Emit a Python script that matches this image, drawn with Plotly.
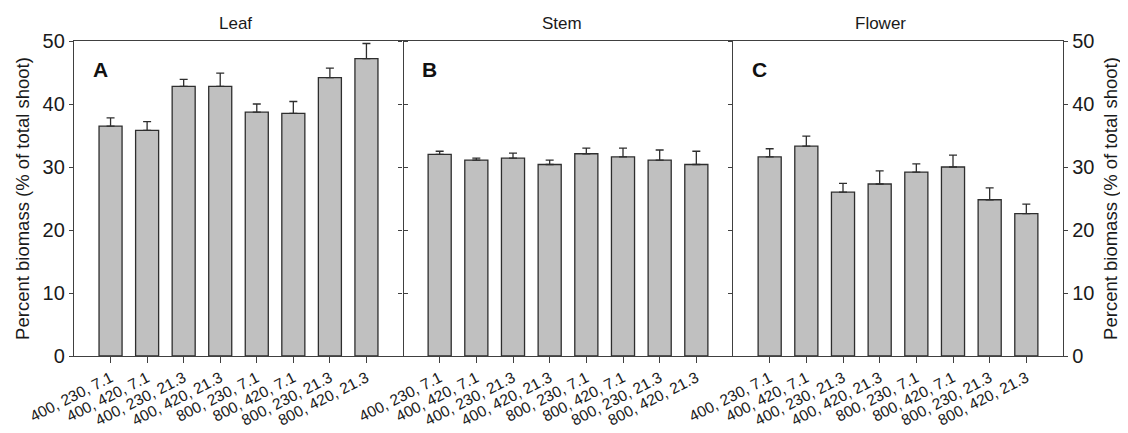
import plotly.graph_objects as go

categories = ["400, 230, 7.1", "400, 420, 7.1", "400, 230, 21.3", "400, 420, 21.3",
              "800, 230, 7.1", "800, 420, 7.1", "800, 230, 21.3", "800, 420, 21.3"]
leaf = [36.5, 35.8, 42.8, 42.8, 38.7, 38.5, 44.2, 47.2]
leaf_se = [1.3, 1.4, 1.1, 2.1, 1.3, 1.9, 1.5, 2.4]
stem = [32.0, 31.1, 31.4, 30.4, 32.1, 31.6, 31.1, 30.4]
stem_se = [0.5, 0.3, 0.8, 0.7, 0.9, 1.4, 1.6, 2.1]
flower = [31.6, 33.3, 26.0, 27.3, 29.2, 30.0, 24.8, 22.6]
flower_se = [1.3, 1.6, 1.4, 2.1, 1.3, 1.9, 1.9, 1.5]
panels = ["Leaf", "Stem", "Flower"]
letters = ["A", "B", "C"]
yticks = [0, 10, 20, 30, 40, 50]

FONT = "Liberation Sans, Arial, sans-serif"
W, H = 1120, 425  # page body has an 8px margin
fig = go.Figure()
data = [(leaf, leaf_se), (stem, stem_se), (flower, flower_se)]
edges = [66, 395, 725, 1055]
domains = [[edges[i] / W, edges[i + 1] / W] for i in range(3)]
LC = "#404040"

for i, (vals, se) in enumerate(data):
    xa = "x" if i == 0 else f"x{i+1}"
    ya = "y" if i == 0 else f"y{i+1}"
    fig.add_trace(go.Bar(
        x=categories, y=vals, xaxis=xa, yaxis=ya, width=0.63,
        marker=dict(color="#c0c0c0", line=dict(color="#2e2e2e", width=1.3)),
        error_y=dict(type="data", symmetric=False, array=se, arrayminus=[0]*len(se),
                     color="#2e2e2e", thickness=1.3, width=4),
        showlegend=False, hoverinfo="skip"))

base = dict(showgrid=False, zeroline=False, linecolor=LC, linewidth=1.3,
            range=[0, 50], tickvals=yticks, tickcolor=LC, tickwidth=1.2, ticklen=4)
tfont = dict(family=FONT, size=20, color="#1a1a1a")
title_font = dict(family=FONT, size=18.5, color="#1a1a1a")
ytitle = "Percent biomass (% of total shoot)"

for i in range(3):
    xk = "xaxis" if i == 0 else f"xaxis{i+1}"
    ya = "y" if i == 0 else f"y{i+1}"
    fig.layout[xk] = dict(domain=domains[i], anchor=ya, range=[-1, 8], type="category",
                          showgrid=False, zeroline=False, showline=True, linecolor=LC,
                          linewidth=1.3, ticks="outside", ticklen=6, tickcolor=LC,
                          tickwidth=1.2, tickangle=-27, mirror=True,
                          tickfont=dict(family=FONT, size=15.5, color="#1a1a1a"))

# Panel A: left labelled axis, mirrored line + ticks on the right (into B)
fig.layout["yaxis"] = dict(domain=[0, 1], anchor="x", showline=True, ticks="outside",
                           mirror="ticks", tickfont=tfont,
                           title=dict(text=ytitle, font=title_font, standoff=8), **base)
# Panel B: ticks pointing left (into A), no line, no labels
fig.layout["yaxis2"] = dict(domain=[0, 1], anchor="x2", showline=False, ticks="outside",
                            showticklabels=False, **base)
# Panel C: right labelled axis, mirrored line + ticks on the left (into B)
fig.layout["yaxis3"] = dict(domain=[0, 1], anchor="x3", side="right", showline=True,
                            ticks="outside", mirror="ticks", tickfont=tfont,
                            title=dict(text=ytitle, font=title_font, standoff=10), **base)
# Extra tick-only axes so that every frame edge gets crossing ticks
fig.layout["yaxis4"] = dict(overlaying="y", anchor="x", side="left", showline=False,
                            ticks="inside", showticklabels=False, **base)
fig.layout["yaxis5"] = dict(overlaying="y3", anchor="x3", side="left", showline=False,
                            ticks="inside", showticklabels=False, **base)
fig.layout["yaxis6"] = dict(overlaying="y3", anchor="x3", side="right", showline=False,
                            ticks="inside", showticklabels=False, **base)

title_x = [209 / W, 554 / W, 900 / W]
for i in range(3):
    fig.add_annotation(text=panels[i], x=title_x[i], y=1, xref="paper", yref="paper",
                       yshift=18, yanchor="middle", showarrow=False,
                       font=dict(family=FONT, size=17, color="#1a1a1a"))
    fig.add_annotation(text=f"<b>{letters[i]}</b>", x=0, y=1,
                       xref=("x domain" if i == 0 else f"x{i+1} domain"),
                       yref=("y domain" if i == 0 else f"y{i+1} domain"),
                       xshift=17, yshift=-28, xanchor="left", yanchor="middle",
                       showarrow=False, font=dict(family=FONT, size=21, color="#111"))

fig.update_layout(width=W, height=H, margin=dict(l=0, r=0, t=33, b=77, autoexpand=False),
                  paper_bgcolor="white", plot_bgcolor="white", bargap=0.3)
fig.write_html("out.html")
